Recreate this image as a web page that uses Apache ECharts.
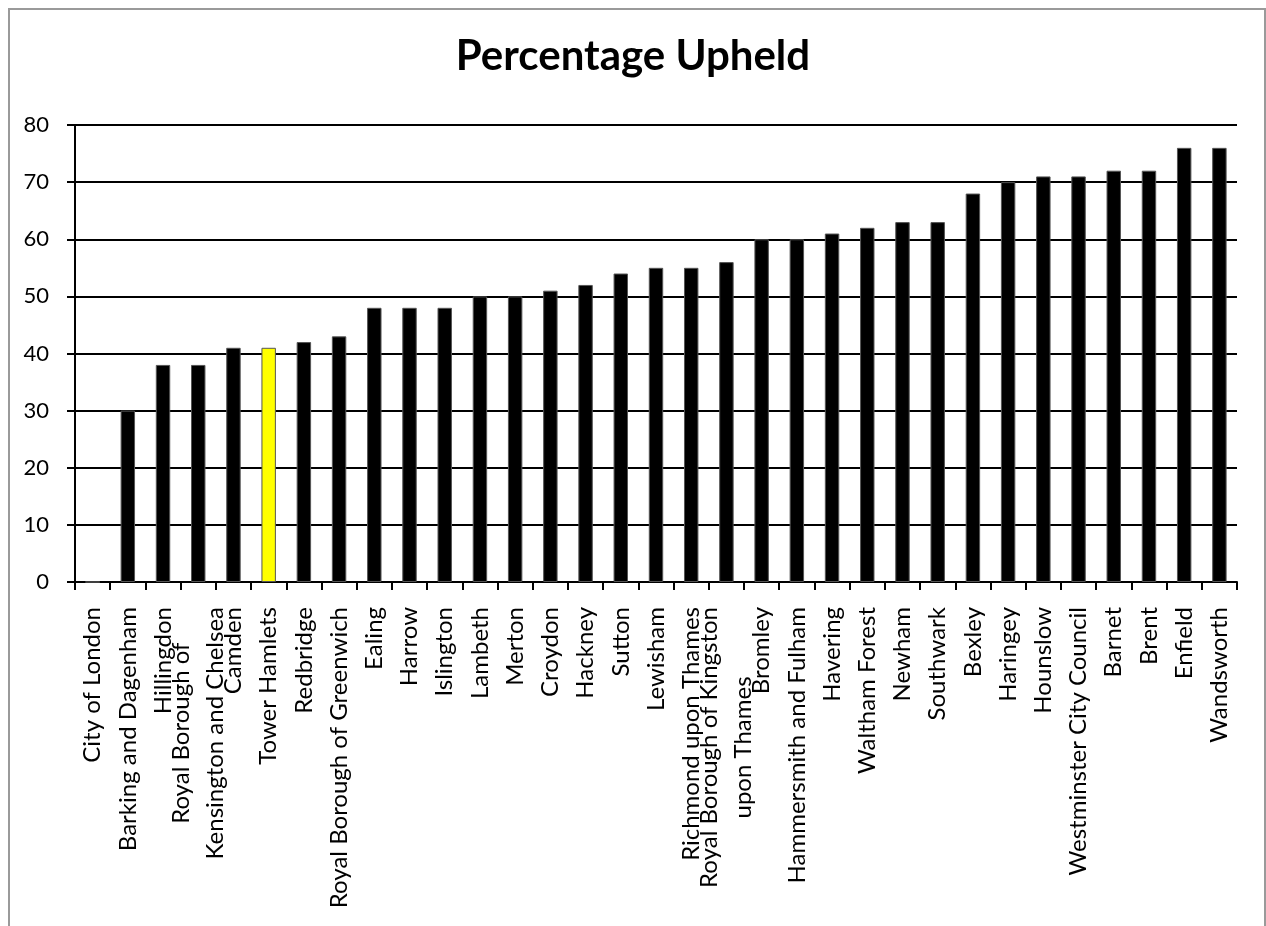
<!DOCTYPE html>
<html>
<head>
<meta charset="utf-8">
<title>Percentage Upheld</title>
<script src="https://cdn.jsdelivr.net/npm/echarts@6/dist/echarts.min.js"></script>
<style>
  html, body { margin: 0; padding: 0; background: #fff; }
  #main { width: 1266px; height: 926px; }
</style>
</head>
<body>
<div id="main"></div>
<script>
// borough names, wrapped the way the original axis wraps them
const boroughs = [
  "City of London", "Barking and Dagenham", "Hillingdon",
  "Royal Borough of\nKensington and Chelsea", "Camden", "Tower Hamlets",
  "Redbridge", "Royal Borough of Greenwich", "Ealing", "Harrow", "Islington",
  "Lambeth", "Merton", "Croydon", "Hackney", "Sutton", "Lewisham",
  "Richmond upon Thames", "Royal Borough of Kingston\nupon Thames", "Bromley",
  "Hammersmith and Fulham", "Havering", "Waltham Forest", "Newham",
  "Southwark", "Bexley", "Haringey", "Hounslow", "Westminster City Council",
  "Barnet", "Brent", "Enfield", "Wandsworth"
];
// percentage of complaints upheld
const upheld = [
  0, 30, 38, 38, 41, 41, 42, 43, 48, 48, 48, 50, 50, 51, 52, 54, 55,
  55, 56, 60, 60, 61, 62, 63, 63, 68, 70, 71, 71, 72, 72, 76, 76
];
const highlighted = "Tower Hamlets";

const chart = echarts.init(document.getElementById("main"));
const font = "Lato";

chart.setOption({
  animation: false,
  backgroundColor: "#fff",
  graphic: [{
    type: "rect",
    shape: { x: 9, y: 9, width: 1256, height: 960 },
    style: { fill: "none", stroke: "#9a9a9a", lineWidth: 2 }
  }],
  title: {
    text: "Percentage Upheld",
    left: "center",
    top: 30,
    textStyle: { fontFamily: font, fontWeight: "bold", fontSize: 42, color: "#000" }
  },
  grid: { left: 75, right: 29, top: 125, bottom: 344 },
  xAxis: {
    type: "category",
    data: boroughs,
    boundaryGap: true,
    axisLine: { lineStyle: { color: "#000", width: 2 } },
    axisTick: { show: true, length: 8, lineStyle: { color: "#000", width: 2 } },
    axisLabel: {
      interval: 0,
      rotate: 90,
      margin: 25,
      color: "#000",
      fontFamily: font,
      fontSize: 24,
      formatter: function (v) {
        return v.split("\n").map(function (s) { return "{c|" + s + "}"; }).join("\n");
      },
      rich: {
        c: { align: "center", fontFamily: font, fontSize: 24, lineHeight: 34, color: "#000" }
      }
    }
  },
  yAxis: {
    type: "value",
    min: 0,
    max: 80,
    interval: 10,
    axisLine: { show: true, lineStyle: { color: "#000", width: 2 } },
    axisTick: { show: true, length: 8, lineStyle: { color: "#000", width: 2 } },
    axisLabel: { margin: 26, color: "#000", fontFamily: font, fontSize: 22 },
    splitLine: { show: true, lineStyle: { color: "#000", width: 2 } }
  },
  series: [{
    type: "bar",
    data: upheld,
    barWidth: "41%",
    itemStyle: {
      color: function (p) { return boroughs[p.dataIndex] === highlighted ? "#ffff00" : "#000"; },
      borderColor: "#555",
      borderWidth: 1
    }
  }]
});
</script>
</body>
</html>
